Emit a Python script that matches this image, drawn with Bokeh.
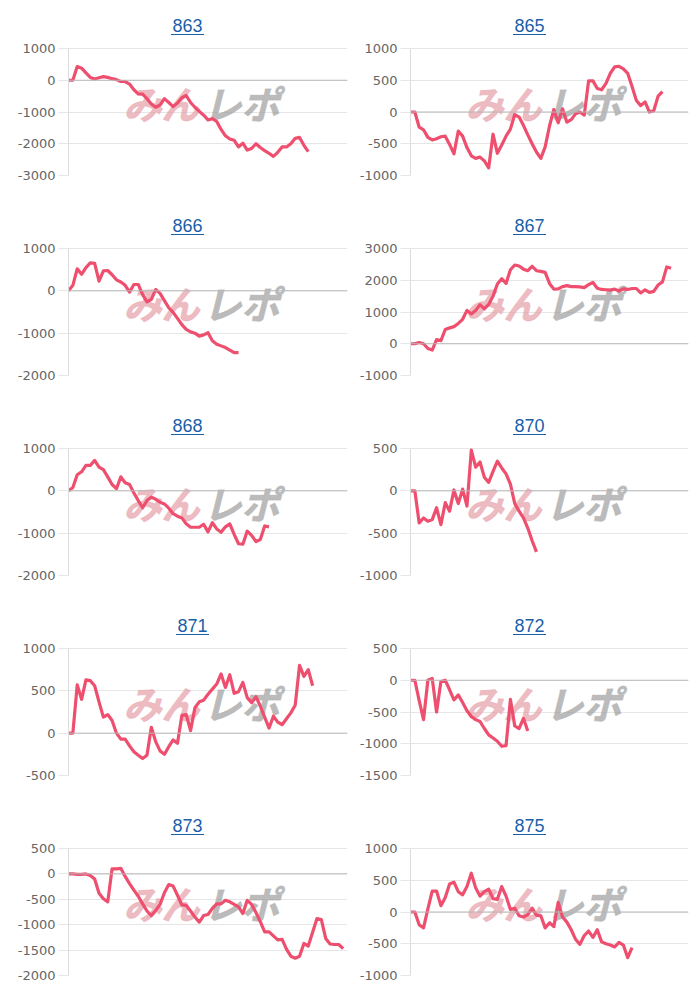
from bokeh.plotting import figure
from bokeh.layouts import gridplot
from bokeh.models import Range1d, FixedTicker, Span, Label, Arrow
from bokeh.embed import file_html
from bokeh.resources import INLINE

# ---------------- data ----------------
titles = ["863", "865", "866", "867", "868", "870", "871", "872", "873", "875"]

s863 = [0, 0, 430, 380, 230, 90, 40, 80, 115, 90, 50, 20, -40, -40, -120,
        -300, -430, -440, -580, -750, -850, -780, -580, -700, -830, -720, -550,
        -480, -700, -850, -980, -1100, -1250, -1210, -1300, -1550, -1750, -1850,
        -1890, -2100, -1980, -2200, -2150, -2000, -2120, -2220, -2300, -2400,
        -2270, -2100, -2100, -2000, -1830, -1800, -2050, -2250]
s865 = [0, 0, -240, -280, -400, -440, -420, -390, -380, -510, -660, -300, -380,
        -560, -690, -730, -710, -770, -880, -350, -650, -520, -380, -270, -40,
        -80, -210, -360, -500, -630, -730, -550, -220, 40, -170, 50, -160, -120,
        -30, 0, -50, 490, 490, 370, 350, 450, 610, 710, 720, 680, 610, 400, 180,
        100, 160, 0, 20, 250, 320]
s866 = [0, 130, 520, 390, 550, 660, 650, 230, 470, 480, 380, 260, 210, 130, -30,
        150, 150, -90, -260, -200, 30, -60, -230, -400, -510, -650, -800, -910,
        -970, -1000, -1070, -1040, -990, -1180, -1260, -1300, -1340, -1400,
        -1460, -1460]
s867 = [0, 0, 40, 0, -150, -200, 130, 100, 450, 500, 540, 640, 770, 1050, 940,
        1050, 1230, 1100, 1240, 1500, 1880, 2050, 1900, 2330, 2480, 2450, 2350,
        2300, 2440, 2300, 2280, 2250, 1900, 1720, 1730, 1800, 1830, 1800, 1800,
        1790, 1770, 1860, 1930, 1750, 1710, 1700, 1690, 1720, 1660, 1730, 1710,
        1740, 1740, 1600, 1700, 1620, 1650, 1850, 1950, 2420, 2380]
s868 = [0, 80, 380, 450, 600, 600, 720, 560, 500, 330, 150, 50, 330, 190, 150,
        -50, -230, -400, -230, -150, -200, -270, -310, -410, -540, -600, -640,
        -780, -860, -860, -860, -790, -970, -750, -900, -980, -850, -780, -1030,
        -1250, -1260, -950, -1050, -1200, -1150, -830, -850]
s870 = [0, 0, -380, -320, -360, -340, -200, -400, -140, -240, 10, -150, 20,
        -180, 480, 280, 340, 160, 100, 230, 350, 270, 200, 80, -150, -240, -320,
        -440, -590, -720]
s871 = [0, 0, 570, 400, 630, 620, 560, 370, 190, 220, 150, 0, -70, -70, -150,
        -220, -260, -300, -260, 70, -100, -210, -250, -160, -80, -120, 210, 220,
        30, 300, 370, 390, 460, 520, 580, 700, 540, 690, 470, 490, 600, 420, 360,
        430, 320, 190, 60, 200, 130, 100, 170, 240, 330, 800, 670, 750, 560]
s872 = [0, 0, -320, -620, 0, 30, -500, -20, 0, -150, -310, -230, -350, -480,
        -570, -620, -650, -760, -860, -910, -960, -1040, -1030, -300, -720, -760,
        -600, -800]
s873 = [0, 0, -10, -10, 0, -30, -100, -380, -490, -550, 100, 100, 110, -50,
        -190, -320, -440, -590, -730, -820, -720, -600, -370, -210, -240, -420,
        -610, -620, -730, -850, -950, -820, -800, -680, -590, -590, -520, -550,
        -600, -650, -780, -520, -600, -760, -940, -1140, -1140, -1220, -1300,
        -1290, -1480, -1620, -1660, -1620, -1370, -1420, -1150, -880, -900,
        -1270, -1380, -1390, -1390, -1470]
s875 = [0, 0, -200, -250, 50, 330, 330, 100, 230, 440, 470, 320, 270, 400, 610,
        380, 250, 320, 360, 210, 200, 400, 250, 40, 60, -60, -80, -40, 60, -50,
        -60, -250, -170, -230, 150, -80, -160, -280, -430, -510, -370, -300,
        -400, -280, -470, -500, -520, -550, -480, -520, -720, -560]

series = [s863, s865, s866, s867, s868, s870, s871, s872, s873, s875]

ticks863 = [1000, 0, -1000, -2000, -3000]
ticks865 = [1000, 500, 0, -500, -1000]
ticks866 = [1000, 0, -1000, -2000]
ticks867 = [3000, 2000, 1000, 0, -1000]
ticks868 = [1000, 0, -1000, -2000]
ticks870 = [500, 0, -500, -1000]
ticks871 = [1000, 500, 0, -500]
ticks872 = [500, 0, -500, -1000, -1500]
ticks873 = [500, 0, -500, -1000, -1500, -2000]
ticks875 = [1000, 500, 0, -500, -1000]
tick_sets = [ticks863, ticks865, ticks866, ticks867, ticks868,
             ticks870, ticks871, ticks872, ticks873, ticks875]

n_labels = 65  # shared category axis length

# ---------------- style ----------------
LINE = "#ee4f6f"
LINK = "#1a5fa8"
GRID = "#e6e6e6"
ZERO = "#b9b9b9"
FONT = "Liberation Sans"
TICKFONT = "DejaVu Sans"

PLOT_H = 127      # height between top and bottom gridlines
TOP_GAP = 48      # from figure top to top gridline
FRAME_H = TOP_GAP + PLOT_H

figs = []
for k, (name, ys, ticks) in enumerate(zip(titles, series, tick_sets)):
    col = k % 2
    row = k // 2
    if col == 0:
        width, bl = 356, (63 if name == "871" else 68)
        title_abs = 187
    else:
        width, bl = 343, 52
        title_abs = 527 - 356
    fw = 279 if col == 0 else 280
    if name == "871":
        fw = 284
    br = width - bl - fw
    height = 200 if row < 4 else 199
    bb = height - FRAME_H

    top, bottom = ticks[0], ticks[-1]
    y_end = top + TOP_GAP * (top - bottom) / PLOT_H

    p = figure(width=width, height=height, output_backend="svg",
               toolbar_location=None, x_axis_location=None,
               x_range=Range1d(0, n_labels - 1),
               y_range=Range1d(bottom, y_end),
               min_border_left=bl, min_border_right=br,
               min_border_top=0, min_border_bottom=bb,
               background_fill_color="white", border_fill_color="white")
    p.outline_line_color = None
    p.xgrid.grid_line_color = None
    p.ygrid.ticker = FixedTicker(ticks=ticks)
    p.ygrid.grid_line_color = GRID
    ax = p.yaxis[0]
    ax.ticker = FixedTicker(ticks=ticks)
    ax.bounds = (bottom, top)
    ax.major_label_overrides = {t: str(t) for t in ticks}
    ax.major_label_text_font = TICKFONT
    ax.major_label_text_font_size = "13px"
    ax.major_label_text_color = "#666666"
    ax.major_tick_out = 10
    ax.major_tick_in = 0
    ax.major_tick_line_color = GRID
    ax.minor_tick_line_color = None
    ax.axis_line_color = "#dcdcdc"
    ax.major_label_standoff = 3

    p.add_layout(Span(location=0, dimension="width", line_color=ZERO, line_width=1))

    # watermark (みんレポ logo)
    wx = 131
    wy = 73
    p.add_layout(Label(x=wx, y=wy, x_units="screen", y_units="screen", text="みん",
                       text_align="right", text_baseline="middle",
                       text_font="Noto Sans CJK JP", text_font_size="38px",
                       text_font_style="bold italic", text_color="#e3959e",
                       text_outline_color="#eab0b6",
                       text_alpha=0.65, level="underlay"))
    p.add_layout(Label(x=wx + 4, y=wy, x_units="screen", y_units="screen", text="レポ",
                       text_align="left", text_baseline="middle",
                       text_font="Noto Sans CJK JP", text_font_size="38px",
                       text_font_style="bold italic", text_color="#939393",
                       text_outline_color="#b4b4b4",
                       text_alpha=0.65, level="underlay"))

    xs = list(range(len(ys)))
    p.line(xs, ys, line_color=LINE, line_width=3.2, line_join="round")

    # title (link style, underlined)
    rel = title_abs - bl
    p.add_layout(Label(x=rel, y=FRAME_H - 25, x_units="screen", y_units="screen",
                       text=name, text_align="center", text_baseline="middle",
                       text_font=FONT, text_font_size="18px", text_color=LINK))
    p.add_layout(Arrow(x_start=rel - 16.5, y_start=FRAME_H - 34,
                       x_end=rel + 16.5, y_end=FRAME_H - 34,
                       start_units="screen", end_units="screen", end=None,
                       line_color=LINK, line_width=1.2))
    figs.append(p)

grid = gridplot(figs, ncols=2, toolbar_location=None)

open("out.html", "w").write(file_html(grid, INLINE))
